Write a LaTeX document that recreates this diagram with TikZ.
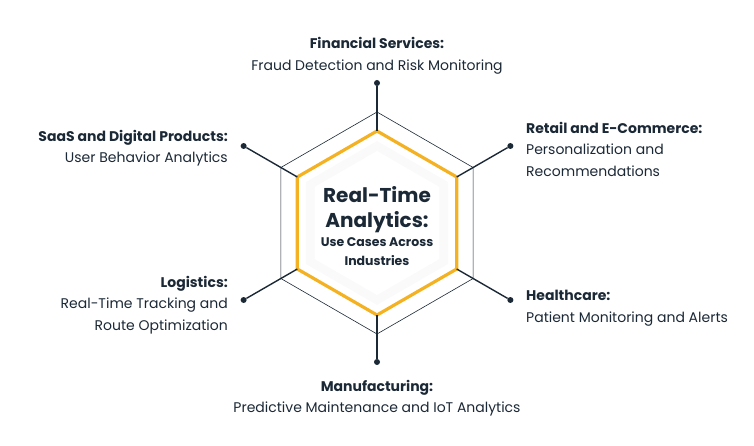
\documentclass[tikz,border=0pt]{standalone}
\usepackage{fontspec}
\setmainfont{Poppins}
\usetikzlibrary{positioning,calc}
\definecolor{InkNavy}{HTML}{1B2836}
\definecolor{HexOrange}{HTML}{F4B223}
\tikzset{x=1pt, y=-1pt,
  lbl/.style={text=InkNavy, font=\fontsize{14}{21.5}\selectfont, inner sep=0pt},
  spoke/.style={draw=InkNavy, line width=1.4pt},
  dot/.style={circle, fill=InkNavy, inner sep=0pt, minimum size=6pt}}
\newcommand\bigt{\fontsize{20}{25}\selectfont}
\newcommand\smallt{\fontsize{12.5}{20}\selectfont}
\begin{document}
\begin{tikzpicture}
\useasboundingbox (0,0) rectangle (754,446);
\coordinate (c) at (377,223);
% hexagons
\fill[gray!4] ($(c)+(90:82)$) \foreach \a in {150,210,...,390} { -- ($(c)+(\a:82)$)} -- cycle;
\fill[white] ($(c)+(90:72)$) \foreach \a in {150,210,...,390} { -- ($(c)+(\a:72)$)} -- cycle;
\draw[InkNavy, line width=0.6pt] ($(c)+(90:111)$) \foreach \a in {150,210,...,390} { -- ($(c)+(\a:111)$)} -- cycle;
\draw[HexOrange, line width=3.2pt] ($(c)+(90:92)$) \foreach \a in {150,210,...,390} { -- ($(c)+(\a:92)$)} -- cycle;
% spokes and dots
\foreach \a/\r/\n in {90/139/t, 270/140/b, 150/154/ul, 30/154/ur, 210/154/ll, 330/154/lr} {
  \coordinate (v\n) at ($(c)+(\a:92)$);
  \node[dot] (d\n) at ($(c)+(\a:\r)$) {};
  \draw[spoke] (v\n) -- (d\n);
}
% centre
\node[text=InkNavy, align=center, font=\bfseries, inner sep=0pt] (title) at (377,226)
  {\bigt Real-Time\\[8pt]\bigt Analytics:\\[3pt]
   \smallt Use Cases Across\\[7pt]\smallt Industries};
% labels
\node[lbl, align=center] (fin) at (377,56) {\textbf{Financial Services:}\\Fraud Detection and Risk Monitoring};
\node[lbl, align=right, anchor=east] (saas) at (228,148) {\textbf{SaaS and Digital Products:}\\User Behavior Analytics};
\node[lbl, align=left, anchor=west] (ret) at (526,149) {\textbf{Retail and E-Commerce:}\\Personalization and\\Recommendations};
\node[lbl, align=right, anchor=east] (log) at (228,305) {\textbf{Logistics:}\\Real-Time Tracking and\\Route Optimization};
\node[lbl, align=left, anchor=west] (hea) at (526,308) {\textbf{Healthcare:}\\Patient Monitoring and Alerts};
\node[lbl, align=center] (man) at (377,398) {\textbf{Manufacturing:}\\Predictive Maintenance and IoT Analytics};
\end{tikzpicture}
\end{document}
